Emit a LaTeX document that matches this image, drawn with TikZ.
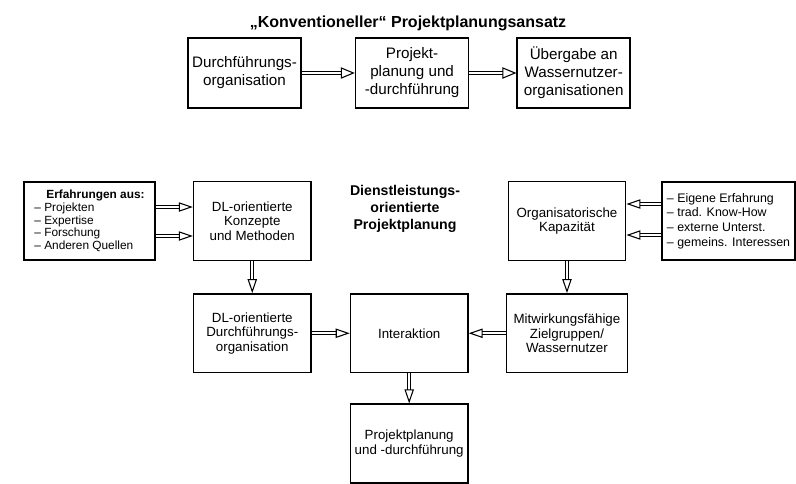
\documentclass[tikz,border=0pt]{standalone}
\usepackage{fontspec}
\setmainfont{Liberation Sans}
\usetikzlibrary{arrows.meta, positioning}

\tikzset{
  topbox/.style={draw, line width=1.2pt, minimum width=84.75pt, minimum height=52.5pt,
                 align=center, inner sep=2pt, font=\fontsize{11.4}{13.5}\selectfont},
  lowbox/.style={draw, line width=1.2pt, minimum width=88pt, minimum height=59pt,
                 align=center, inner sep=2pt, font=\fontsize{10}{11}\selectfont},
  listbox/.style={draw, line width=1.2pt, minimum height=58.5pt, align=left,
                  inner sep=2pt, font=\fontsize{9}{9.6}\selectfont},
  headline/.style={align=center, font=\bfseries\fontsize{10.6}{13}\selectfont},
  dblarrow/.style={double, double distance=1.5pt, line width=0.8pt,
                   -{Triangle[open, length=10.5pt, width=7pt, line width=0.8pt]}},
  bigarrow/.style={dblarrow, -{Triangle[open, length=10.5pt, width=8.5pt, line width=0.8pt]}}
}

\begin{document}
\begin{tikzpicture}[x=0.75pt, y=-0.75pt]
  \useasboundingbox (0,0) rectangle (796,483);
  \clip (0,0) rectangle (796,483);

  % konventioneller Ansatz
  \node[headline, font=\bfseries\fontsize{12}{14}\selectfont] (konvtitle) at (408,23)
    {„Konventioneller“ Projektplanungsansatz};
  \node[topbox] (durchorg) at (244.5,73) {Durchführungs-\\organisation};
  \node[topbox, right=39.75pt of durchorg] (projplan) {Projekt-\\planung und\\-durchführung};
  \node[topbox, right=35.25pt of projplan] (uebergabe) {Übergabe an\\Wassernutzer-\\organisationen};

  \draw[bigarrow] (durchorg) -- (projplan);
  \draw[bigarrow] (projplan) -- (uebergabe);

  % dienstleistungsorientierter Ansatz
  \node[headline] (dltitle) at (405,209) {Dienstleistungs-\\orientierte\\Projektplanung};
  \node[listbox, minimum width=98.25pt, font=\fontsize{8.9}{9.5}\selectfont] (erfahrung) at (89.5,221) {
    \hspace{9pt}\textbf{Erfahrungen aus:}\\
    – Projekten\\
    – Expertise\\
    – Forschung\\
    – Anderen Quellen
  };
  \node[lowbox, right=27.75pt of erfahrung] (konzepte) {DL-orientierte\\Konzepte\\und Methoden};
  \node[lowbox, below=24pt of konzepte] (dldurch) {DL-orientierte\\Durchführungs-\\organisation};
  \node[lowbox, right=28.5pt of dldurch] (interaktion) {Interaktion};
  \node[lowbox, below=22.5pt of interaktion] (projdurch) {Projektplanung\\und -durchführung};
  \node[lowbox, right=27.75pt of interaktion, minimum width=90.75pt] (mitwirkung)
    {Mitwirkungsfähige\\Zielgruppen/\\Wassernutzer};
  \node[lowbox, above=24pt of mitwirkung] (orgkap) {Organisatorische\\Kapazität};
  \node[listbox, right=26pt of orgkap, minimum width=100pt, font=\fontsize{9.3}{10.9}\selectfont] (eigene) {
    – Eigene Erfahrung\\
    – trad. Know-How\\
    – externe Unterst.\\
    – gemeins. Interessen
  };

  \draw[dblarrow] ([yshift=10.5pt]erfahrung.east) -- ([yshift=10.5pt]konzepte.west);
  \draw[dblarrow] ([yshift=-11.25pt]erfahrung.east) -- ([yshift=-11.25pt]konzepte.west);
  \draw[dblarrow] ([yshift=12.75pt]eigene.west) -- ([yshift=12.75pt]orgkap.east);
  \draw[dblarrow] ([yshift=-10.5pt]eigene.west) -- ([yshift=-10.5pt]orgkap.east);
  \draw[dblarrow] (konzepte) -- (dldurch);
  \draw[dblarrow] (orgkap) -- (mitwirkung);
  \draw[dblarrow] (dldurch) -- (interaktion);
  \draw[dblarrow] (mitwirkung) -- (interaktion);
  \draw[dblarrow] (interaktion) -- (projdurch);
\end{tikzpicture}
\end{document}
